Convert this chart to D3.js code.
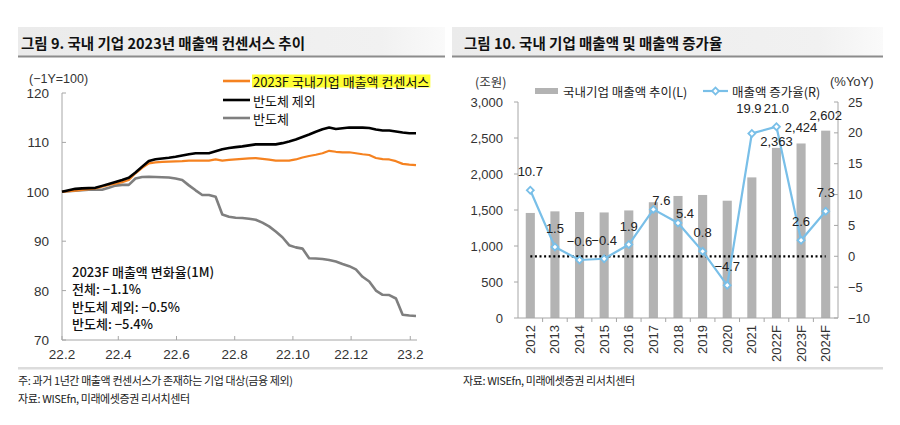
<!DOCTYPE html>
<html><head><meta charset="utf-8">
<script src="https://cdn.jsdelivr.net/npm/d3@7"></script>
<style>
html,body{margin:0;padding:0;background:#fff;}
svg{display:block;font-family:"Liberation Sans","Noto Sans CJK KR",sans-serif;}
.kr{font-family:"Noto Sans CJK KR","Liberation Sans",sans-serif;}
</style></head>
<body><svg id="c" width="900" height="425"></svg>
<script>
// ---------- Left chart data (weekly, -1Y = 100) ----------
const weekDates = ["2022-02-01","2022-02-08","2022-02-15","2022-02-22","2022-03-01","2022-03-08","2022-03-15","2022-03-22","2022-03-29",
"2022-04-05","2022-04-12","2022-04-19","2022-04-26","2022-05-03","2022-05-10","2022-05-17","2022-05-24","2022-05-31",
"2022-06-07","2022-06-14","2022-06-21","2022-06-28","2022-07-05","2022-07-12","2022-07-19","2022-07-26",
"2022-08-02","2022-08-09","2022-08-16","2022-08-23","2022-08-30","2022-09-06","2022-09-13","2022-09-20","2022-09-27",
"2022-10-04","2022-10-11","2022-10-18","2022-10-25","2022-11-01","2022-11-08","2022-11-15","2022-11-22","2022-11-29",
"2022-12-06","2022-12-13","2022-12-20","2022-12-27","2023-01-03","2023-01-10","2023-01-17","2023-01-24","2023-01-31","2023-02-07"];
const consensusTotal = [100.0,100.15,100.25,100.4,100.55,100.7,101.05,101.4,101.65,101.95,102.4,103.75,104.85,105.75,105.95,106.05,106.1,106.15,
106.2,106.3,106.3,106.3,106.3,106.55,106.3,106.45,106.55,106.65,106.75,106.8,106.65,106.5,106.3,106.3,106.3,
106.55,106.95,107.25,107.5,107.8,108.3,108.1,108.0,108.0,107.8,107.6,107.45,106.85,106.6,106.55,106.2,105.65,105.5,105.4];
const exSemiconductor = [100.0,100.3,100.6,100.7,100.75,100.8,101.2,101.6,102.0,102.4,102.85,103.9,105.1,106.25,106.6,106.75,106.9,107.1,
107.35,107.6,107.8,107.8,107.8,108.2,108.6,108.85,109.05,109.2,109.4,109.6,109.6,109.6,109.6,109.85,110.2,
110.6,111.1,111.6,112.15,112.65,113.0,112.7,112.85,113.0,113.0,113.0,112.9,112.6,112.4,112.4,112.2,112.0,111.85,111.85];
const semiconductor = [100.0,100.1,100.2,100.3,100.4,100.45,100.4,100.8,101.25,101.4,101.4,102.7,103.0,103.05,103.0,102.95,102.9,102.7,
102.4,101.3,100.3,99.35,99.35,99.0,95.4,94.95,94.75,94.7,94.55,94.35,93.75,93.0,91.95,90.8,89.2,
88.75,88.5,86.55,86.5,86.4,86.2,85.9,85.4,84.95,84.3,82.8,81.85,80.0,79.15,79.1,78.4,75.1,74.95,74.85];
const leftYTicks = [70,80,90,100,110,120];
const leftXTicks = ["2022-02-01","2022-04-01","2022-06-01","2022-08-01","2022-10-01","2022-12-01","2023-02-01"];
const leftSeriesNames = ["2023F 국내기업 매출액 컨센서스","반도체 제외","반도체"];
const noteLines = ["2023F 매출액 변화율(1M)","전체: −1.1%","반도체 제외: −0.5%","반도체: −5.4%"];

// ---------- Right chart data ----------
const years = ["2012","2013","2014","2015","2016","2017","2018","2019","2020","2021","2022F","2023F","2024F"];
const salesTrillion = [1459,1481,1472,1466,1494,1608,1695,1709,1629,1953,2363,2424,2602];
const growthPct = [10.7,1.5,-0.6,-0.4,1.9,7.6,5.4,0.8,-4.7,19.9,21.0,2.6,7.3];
const salesLabelYears = ["2022F","2023F","2024F"];
const rightLeftTicks = [0,500,1000,1500,2000,2500,3000];
const rightRightTicks = [-10,-5,0,5,10,15,20,25];
const rightSeriesNames = ["국내기업 매출액 추이(L)","매출액 증가율(R)"];

const svg = d3.select("#c");
const minus = s => String(s).replace("-", "−");

// ---------- Title bands ----------
const defs = svg.append("defs");
const g1 = defs.append("linearGradient").attr("id","tb").attr("x1","0").attr("x2","1");
g1.append("stop").attr("offset","0").attr("stop-color","#ebebeb");
g1.append("stop").attr("offset","0.85").attr("stop-color","#f1f1f1");
g1.append("stop").attr("offset","1").attr("stop-color","#fafafa");
[[18,445,"그림 9. 국내 기업 2023년 매출액 컨센서스 추이",21],[452,883,"그림 10. 국내 기업 매출액 및 매출액 증가율",464]].forEach(([x0,x1,t,tx])=>{
  svg.append("rect").attr("x",x0).attr("y",27).attr("width",x1-x0).attr("height",29).attr("fill","url(#tb)");
  svg.append("rect").attr("x",x0).attr("y",55.5).attr("width",x1-x0).attr("height",2).attr("fill","#8c8c8c");
  svg.append("text").attr("class","kr").attr("x",tx).attr("y",42).attr("dominant-baseline","central")
    .attr("font-size",14.5).attr("font-weight","bold").attr("fill","#111").text(t);
});

// ---------- Left chart ----------
const parse = d3.timeParse("%Y-%m-%d");
const dates = weekDates.map(parse);
const xL = d3.scaleTime().domain([dates[0], dates[dates.length-1]]).range([62, 416]);
const yL = d3.scaleLinear().domain([70,120]).range([340,93]);
const axisCol = "#a6a6a6", txtCol = "#333";

const gL = svg.append("g");
gL.append("line").attr("x1",62).attr("x2",62).attr("y1",yL(120)).attr("y2",yL(70)).attr("stroke",axisCol);
gL.append("line").attr("x1",62).attr("x2",417).attr("y1",yL(70)).attr("y2",yL(70)).attr("stroke",axisCol);
gL.selectAll(".yt").data(leftYTicks).enter().append("line")
  .attr("x1",62).attr("x2",66).attr("y1",d=>yL(d)).attr("y2",d=>yL(d)).attr("stroke",axisCol);
gL.selectAll(".yl").data(leftYTicks).enter().append("text")
  .attr("x",49).attr("y",d=>yL(d)+0.5).attr("text-anchor","end").attr("dominant-baseline","central")
  .attr("font-size",13.5).attr("fill",txtCol).text(d=>d);
const fmtX = d3.timeFormat("%y.%-m");
gL.selectAll(".xt").data(leftXTicks.map(parse)).enter().append("line")
  .attr("x1",d=>xL(d)).attr("x2",d=>xL(d)).attr("y1",yL(70)).attr("y2",yL(70)-4).attr("stroke",axisCol);
gL.selectAll(".xl").data(leftXTicks.map(parse)).enter().append("text")
  .attr("x",d=>xL(d)).attr("y",354).attr("text-anchor","middle").attr("dominant-baseline","central")
  .attr("font-size",13.5).attr("fill",txtCol).text(d=>fmtX(d));
gL.append("text").attr("x",29).attr("y",79).attr("dominant-baseline","central")
  .attr("font-size",12.5).attr("fill",txtCol).text("(−1Y=100)");

const lineL = d3.line().x((d,i)=>xL(dates[i])).y(d=>yL(d));
const leftSeries = [
  {vals: semiconductor, col:"#7f7f7f", w:2.6},
  {vals: consensusTotal, col:"#f58220", w:2.2},
  {vals: exSemiconductor, col:"#000000", w:2.6}
];
leftSeries.forEach(s=>{
  gL.append("path").attr("d",lineL(s.vals)).attr("fill","none").attr("stroke",s.col)
    .attr("stroke-width",s.w).attr("stroke-linejoin","round");
});

// left legend
const legL = [{col:"#f58220",y:81,hl:true},{col:"#000",y:100},{col:"#7f7f7f",y:118}];
legL.forEach((l,i)=>{
  gL.append("line").attr("x1",223).attr("x2",250).attr("y1",l.y).attr("y2",l.y).attr("stroke",l.col).attr("stroke-width",2.6);
  const t = gL.append("text").attr("class","kr").attr("x",253).attr("y",l.y).attr("dominant-baseline","central")
    .attr("font-size",13).attr("fill","#111").text(leftSeriesNames[i]);
  if (l.hl) {
    const bb = t.node().getBBox();
    gL.insert("rect","text").attr("x",bb.x-1).attr("y",l.y-6.5).attr("width",bb.width+2).attr("height",13).attr("fill","#ffff33");
  }
});

// annotation
noteLines.forEach((t,i)=>{
  gL.append("text").attr("class","kr").attr("x",72).attr("y",271+i*17.5).attr("dominant-baseline","central")
    .attr("font-size",13).attr("font-weight",500).attr("fill","#111").text(t);
});

// ---------- Right chart ----------
const xR = d3.scaleBand().domain(years).range([518,838]).paddingInner(0.63).paddingOuter(0.315);
const yR = d3.scaleLinear().domain([0,3000]).range([318,102]);
const y2 = d3.scaleLinear().domain([-10,25]).range([318,102]);
const gR = svg.append("g");
const cx = d => xR(d) + xR.bandwidth()/2;

gR.selectAll(".bar").data(years).enter().append("rect")
  .attr("x",d=>xR(d)).attr("width",xR.bandwidth())
  .attr("y",(d,i)=>yR(salesTrillion[i])).attr("height",(d,i)=>yR(0)-yR(salesTrillion[i]))
  .attr("fill","#b3b3b3");

// axes
gR.append("line").attr("x1",518).attr("x2",518).attr("y1",yR(3000)).attr("y2",yR(0)).attr("stroke",axisCol);
gR.append("line").attr("x1",838).attr("x2",838).attr("y1",yR(3000)).attr("y2",yR(0)).attr("stroke",axisCol);
gR.append("line").attr("x1",518).attr("x2",838).attr("y1",yR(0)).attr("y2",yR(0)).attr("stroke",axisCol);
gR.selectAll(".lt").data(rightLeftTicks).enter().append("line")
  .attr("x1",514).attr("x2",518).attr("y1",d=>yR(d)).attr("y2",d=>yR(d)).attr("stroke",axisCol);
gR.selectAll(".ll").data(rightLeftTicks).enter().append("text")
  .attr("x",503).attr("y",d=>yR(d)).attr("text-anchor","end").attr("dominant-baseline","central")
  .attr("font-size",13).attr("fill",txtCol).text(d=>d3.format(",")(d));
gR.selectAll(".rt").data(rightRightTicks).enter().append("line")
  .attr("x1",834).attr("x2",838).attr("y1",d=>y2(d)).attr("y2",d=>y2(d)).attr("stroke",axisCol);
gR.selectAll(".rl").data(rightRightTicks).enter().append("text")
  .attr("x",848).attr("y",d=>y2(d)).attr("dominant-baseline","central")
  .attr("font-size",13).attr("fill",txtCol).text(d=>minus(d));
gR.selectAll(".bt").data(years.slice(1)).enter().append("line")
  .attr("x1",d=>xR(d)-xR.step()*xR.paddingInner()/2).attr("x2",d=>xR(d)-xR.step()*xR.paddingInner()/2)
  .attr("y1",318).attr("y2",322).attr("stroke",axisCol);
gR.selectAll(".xl").data(years).enter().append("text")
  .attr("transform",d=>`translate(${cx(d)},325) rotate(-90)`)
  .attr("text-anchor","end").attr("dominant-baseline","central")
  .attr("font-size",13).attr("fill",txtCol).text(d=>d);
gR.append("text").attr("class","kr").attr("x",475).attr("y",81).attr("dominant-baseline","central")
  .attr("font-size",12.5).attr("fill",txtCol).text("(조원)");
gR.append("text").attr("x",830).attr("y",81).attr("dominant-baseline","central")
  .attr("font-size",13).attr("fill",txtCol).text("(%YoY)");

// zero dotted line
gR.append("line").attr("x1",cx(years[0])).attr("x2",cx(years[years.length-1]))
  .attr("y1",y2(0)).attr("y2",y2(0)).attr("stroke","#000").attr("stroke-width",2.2).attr("stroke-dasharray","2,2.6");

// growth line
const blue = "#79bfe8";
const lineR = d3.line().x((d,i)=>cx(years[i])).y(d=>y2(d));
gR.append("path").attr("d",lineR(growthPct)).attr("fill","none").attr("stroke",blue).attr("stroke-width",2.2);
const diamond = d3.symbol().type(d3.symbolSquare).size(24);
gR.selectAll(".mk").data(years).enter().append("path")
  .attr("d",diamond).attr("transform",(d,i)=>`translate(${cx(d)},${y2(growthPct[i])}) rotate(45)`)
  .attr("fill","#fff").attr("stroke",blue).attr("stroke-width",1.8);

// growth labels
const nudge = {"2017":[8,-9],"2018":[7,-9],"2021":[-3,-25]};
gR.selectAll(".gl").data(years).enter().append("text")
  .attr("x",d=>cx(d)+(nudge[d]?nudge[d][0]:0))
  .attr("y",(d,i)=>y2(growthPct[i])+(nudge[d]?nudge[d][1]:-18.5))
  .attr("text-anchor","middle").attr("dominant-baseline","central")
  .attr("font-size",13).attr("fill","#222").text((d,i)=>minus(growthPct[i].toFixed(1)));

// sales labels
const barNudge = {"2022F":-6,"2023F":-16,"2024F":-15};
gR.selectAll(".sl").data(salesLabelYears).enter().append("text")
  .attr("x",d=>cx(d)).attr("y",d=>yR(salesTrillion[years.indexOf(d)])+barNudge[d])
  .attr("text-anchor","middle").attr("dominant-baseline","central")
  .attr("font-size",13).attr("fill","#222").text(d=>d3.format(",")(salesTrillion[years.indexOf(d)]));

// right legend
gR.append("rect").attr("x",535).attr("y",88).attr("width",23).attr("height",6).attr("fill","#b3b3b3");
gR.append("text").attr("class","kr").attr("x",563).attr("y",91).attr("dominant-baseline","central")
  .attr("font-size",12.5).attr("fill","#222").text(rightSeriesNames[0]);
gR.append("line").attr("x1",703).attr("x2",728).attr("y1",91).attr("y2",91).attr("stroke",blue).attr("stroke-width",2.2);
gR.append("path").attr("d",diamond).attr("transform","translate(715.5,91) rotate(45)")
  .attr("fill","#fff").attr("stroke",blue).attr("stroke-width",1.8);
gR.append("text").attr("class","kr").attr("x",732).attr("y",91).attr("dominant-baseline","central")
  .attr("font-size",12.5).attr("fill","#222").text(rightSeriesNames[1]);

// ---------- Footer ----------
svg.append("rect").attr("x",18).attr("y",367).attr("width",865).attr("height",2.5).attr("fill","#dcdcdc");
const foot = [[18,380,"주: 과거 1년간 매출액 컨센서스가 존재하는 기업 대상(금융 제외)"],[18,398,"자료: WISEfn, 미래에셋증권 리서치센터"],[463,380,"자료: WISEfn, 미래에셋증권 리서치센터"]];
foot.forEach(([x,y,t])=>{
  svg.append("text").attr("class","kr").attr("x",x).attr("y",y).attr("dominant-baseline","central")
    .attr("font-size",11).attr("letter-spacing",-0.4).attr("fill","#222").text(t);
});
</script></body></html>
